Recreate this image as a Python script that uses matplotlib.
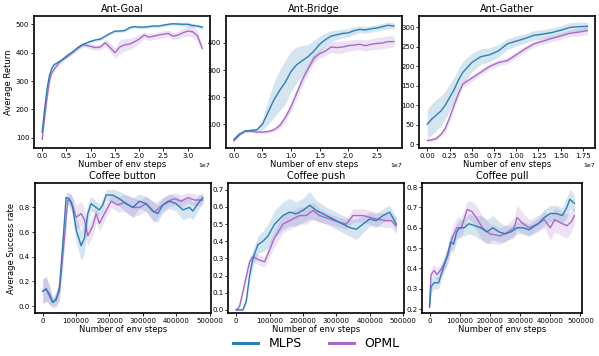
import matplotlib
matplotlib.use('Agg')
import matplotlib.pyplot as plt
import numpy as np

c_mlps = '#2a7fb8'
c_opml = '#a66bc9'

# ---- Ant-Goal ----
goal_x = [0, 0.05, 0.1, 0.15, 0.2, 0.25, 0.35, 0.5, 0.65, 0.75, 0.85, 1.0, 1.1, 1.2, 1.3, 1.4, 1.5,
          1.6, 1.7, 1.8, 1.9, 2.0, 2.1, 2.2, 2.3, 2.4, 2.5, 2.6, 2.7, 2.8, 2.9, 3.0, 3.1, 3.2, 3.3]
goal_mlps = [120, 200, 270, 320, 345, 358, 368, 385, 405, 420, 430, 440, 445, 448, 458, 468, 476,
             476, 478, 488, 492, 490, 490, 492, 494, 494, 497, 500, 502, 501, 500, 500, 496, 494, 490]
goal_mlps_sd = [10, 10, 9, 8, 7, 6, 5, 5, 5, 5, 5, 5, 5, 5, 5, 5, 5,
                5, 5, 5, 5, 5, 5, 5, 5, 5, 5, 5, 5, 6, 7, 8, 7, 6, 6]
goal_opml = [95, 170, 240, 300, 330, 342, 365, 388, 405, 418, 428, 422, 418, 420, 435, 418, 400,
             420, 428, 430, 438, 448, 462, 455, 458, 462, 465, 468, 458, 462, 470, 476, 474, 460, 415]
goal_opml_sd = [10, 12, 12, 10, 8, 8, 8, 8, 8, 8, 8, 10, 10, 10, 12, 15, 18,
                25, 22, 20, 18, 15, 12, 12, 12, 12, 12, 12, 12, 14, 15, 18, 20, 18, 12]

# ---- Ant-Bridge ----
bridge_x = [0, 0.1, 0.2, 0.3, 0.4, 0.5, 0.6, 0.7, 0.8, 0.9, 1.0, 1.1, 1.2, 1.3, 1.4, 1.5, 1.6,
            1.7, 1.8, 1.9, 2.0, 2.1, 2.2, 2.3, 2.4, 2.5, 2.6, 2.7, 2.8]
bridge_mlps = [45, 65, 76, 78, 80, 100, 145, 190, 225, 255, 295, 320, 335, 350, 370, 395, 412,
               425, 430, 435, 437, 445, 450, 448, 452, 455, 460, 465, 462]
bridge_mlps_sd = [6, 6, 5, 5, 6, 20, 45, 65, 75, 80, 75, 65, 55, 45, 38, 30, 25,
                  20, 18, 16, 15, 14, 12, 12, 12, 12, 12, 12, 12]
bridge_opml = [40, 62, 76, 75, 72, 72, 74, 80, 95, 125, 165, 215, 265, 305, 345, 360, 370,
               385, 383, 385, 390, 392, 395, 390, 395, 398, 400, 405, 405]
bridge_opml_sd = [5, 5, 5, 5, 5, 5, 5, 8, 12, 15, 18, 20, 20, 18, 15, 15, 18,
                  20, 22, 22, 20, 20, 20, 20, 20, 22, 22, 22, 20]

# ---- Ant-Gather ----
gather_x = [0, 0.05, 0.1, 0.15, 0.2, 0.25, 0.3, 0.35, 0.4, 0.5, 0.6, 0.7, 0.8, 0.9, 1.0, 1.1,
            1.2, 1.3, 1.4, 1.5, 1.6, 1.7, 1.8]
gather_mlps = [52, 65, 75, 85, 100, 120, 140, 165, 185, 210, 225, 230, 240, 258, 265, 272,
               280, 283, 287, 293, 300, 302, 303]
gather_mlps_sd = [38, 40, 40, 38, 36, 34, 32, 30, 28, 24, 20, 18, 16, 14, 13, 12,
                  12, 12, 12, 12, 12, 12, 10]
gather_opml = [10, 12, 15, 25, 40, 68, 100, 130, 155, 170, 185, 200, 210, 215, 230, 245,
               258, 265, 272, 278, 285, 288, 292]
gather_opml_sd = [4, 4, 5, 6, 8, 10, 10, 10, 8, 8, 8, 8, 8, 8, 8, 8,
                  8, 8, 8, 8, 8, 10, 10]

# ---- Coffee button ----
button_x = [0, 10000, 20000, 30000, 40000, 50000, 60000, 70000, 80000, 90000, 100000, 115000,
            125000, 135000, 145000, 160000, 170000, 180000, 190000, 210000, 230000, 250000,
            270000, 290000, 310000, 330000, 345000, 360000, 380000, 400000, 420000, 440000,
            450000, 465000, 480000]
button_mlps = [0.12, 0.14, 0.10, 0.03, 0.05, 0.15, 0.50, 0.88, 0.87, 0.80, 0.62, 0.49,
               0.55, 0.75, 0.83, 0.80, 0.78, 0.82, 0.90, 0.90, 0.87, 0.83,
               0.80, 0.85, 0.83, 0.77, 0.75, 0.82, 0.85, 0.83, 0.78, 0.80,
               0.77, 0.83, 0.88]
button_mlps_sd = [0.10, 0.10, 0.08, 0.04, 0.06, 0.08, 0.10, 0.04, 0.05, 0.08, 0.10, 0.12,
                  0.12, 0.08, 0.06, 0.05, 0.05, 0.05, 0.04, 0.05, 0.06, 0.07,
                  0.08, 0.06, 0.06, 0.08, 0.07, 0.06, 0.06, 0.06, 0.08, 0.08,
                  0.07, 0.06, 0.04]
button_opml_x = [0, 10000, 20000, 30000, 40000, 50000, 65000, 75000, 85000, 100000, 115000,
                 125000, 135000, 150000, 160000, 170000, 185000, 205000, 225000, 245000,
                 270000, 290000, 310000, 335000, 350000, 375000, 395000, 415000, 435000,
                 455000, 480000]
button_opml = [0.12, 0.14, 0.08, 0.03, 0.06, 0.12, 0.55, 0.86, 0.85, 0.72, 0.75,
               0.70, 0.57, 0.65, 0.75, 0.67, 0.75, 0.85, 0.82, 0.84,
               0.80, 0.80, 0.83, 0.76, 0.80, 0.85, 0.87, 0.85, 0.88,
               0.86, 0.86]
button_opml_sd = [0.10, 0.10, 0.07, 0.03, 0.05, 0.08, 0.10, 0.04, 0.06, 0.10, 0.10,
                  0.10, 0.08, 0.08, 0.07, 0.06, 0.06, 0.05, 0.06, 0.07,
                  0.08, 0.06, 0.06, 0.08, 0.06, 0.05, 0.05, 0.05, 0.04,
                  0.05, 0.04]

# ---- Coffee push ----
push_x = [0, 10000, 20000, 30000, 40000, 50000, 65000, 80000, 95000, 115000, 140000, 160000,
          180000, 200000, 220000, 240000, 270000, 300000, 320000, 340000, 360000, 380000,
          400000, 420000, 440000, 460000, 480000]
push_mlps = [0.0, 0.0, 0.0, 0.05, 0.20, 0.30, 0.38, 0.40, 0.43, 0.50, 0.55, 0.57,
             0.56, 0.58, 0.61, 0.58, 0.55, 0.52, 0.50, 0.48, 0.47, 0.50,
             0.53, 0.52, 0.55, 0.57, 0.50]
push_mlps_sd = [0.005, 0.005, 0.005, 0.02, 0.04, 0.05, 0.05, 0.06, 0.07, 0.08, 0.08, 0.08,
                0.07, 0.07, 0.08, 0.06, 0.05, 0.05, 0.05, 0.05, 0.06, 0.05,
                0.04, 0.04, 0.04, 0.04, 0.04]
push_opml_x = [0, 10000, 25000, 40000, 50000, 70000, 85000, 100000, 115000, 140000, 170000,
               190000, 210000, 230000, 250000, 280000, 310000, 330000, 350000, 380000,
               400000, 420000, 450000, 465000, 480000]
push_opml = [0.0, 0.02, 0.15, 0.28, 0.31, 0.29, 0.28, 0.35, 0.42, 0.50, 0.53,
             0.55, 0.55, 0.58, 0.55, 0.53, 0.51, 0.50, 0.55, 0.55,
             0.54, 0.53, 0.52, 0.52, 0.49]
push_opml_sd = [0.005, 0.01, 0.03, 0.03, 0.03, 0.03, 0.03, 0.04, 0.05, 0.05, 0.05,
                0.05, 0.05, 0.05, 0.04, 0.03, 0.03, 0.03, 0.04, 0.04,
                0.04, 0.04, 0.04, 0.04, 0.05]

# ---- Coffee pull ----
pull_x = [0, 5000, 15000, 30000, 45000, 60000, 70000, 80000, 90000, 100000, 115000, 130000,
          150000, 170000, 190000, 210000, 230000, 250000, 270000, 290000, 310000, 330000,
          360000, 380000, 400000, 420000, 440000, 455000, 465000, 480000]
pull_mlps = [0.21, 0.31, 0.33, 0.33, 0.40, 0.47, 0.53, 0.52, 0.58, 0.60, 0.60, 0.62,
             0.61, 0.60, 0.58, 0.60, 0.58, 0.57, 0.58, 0.60, 0.60, 0.59,
             0.62, 0.65, 0.67, 0.67, 0.66, 0.70, 0.74, 0.72]
pull_mlps_sd = [0.02, 0.03, 0.03, 0.03, 0.03, 0.04, 0.04, 0.04, 0.04, 0.04, 0.04, 0.05,
                0.05, 0.06, 0.06, 0.06, 0.05, 0.04, 0.03, 0.03, 0.03, 0.03,
                0.03, 0.04, 0.04, 0.04, 0.04, 0.05, 0.05, 0.04]
pull_opml_x = [0, 5000, 15000, 25000, 40000, 60000, 75000, 90000, 105000, 125000, 140000,
               155000, 175000, 200000, 235000, 260000, 280000, 290000, 310000, 330000,
               360000, 380000, 400000, 415000, 440000, 455000, 470000, 480000]
pull_opml = [0.22, 0.37, 0.39, 0.37, 0.40, 0.46, 0.55, 0.60, 0.60, 0.69, 0.68,
             0.65, 0.60, 0.57, 0.56, 0.58, 0.60, 0.65, 0.62, 0.60,
             0.62, 0.64, 0.60, 0.64, 0.62, 0.61, 0.63, 0.66]
pull_opml_sd = [0.02, 0.03, 0.03, 0.03, 0.03, 0.04, 0.05, 0.05, 0.05, 0.04, 0.05,
                0.06, 0.06, 0.05, 0.04, 0.04, 0.05, 0.06, 0.05, 0.04,
                0.04, 0.04, 0.06, 0.06, 0.06, 0.06, 0.05, 0.04]


def draw(ax, x1, y1, s1, x2, y2, s2, title, scale=1.0):
    x1 = np.array(x1) * scale
    x2 = np.array(x2) * scale
    y1, s1, y2, s2 = map(np.array, (y1, s1, y2, s2))
    ax.fill_between(x1, y1 - s1, y1 + s1, color=c_mlps, alpha=0.2, lw=0)
    ax.fill_between(x2, y2 - s2, y2 + s2, color=c_opml, alpha=0.2, lw=0)
    ax.plot(x2, y2, color=c_opml, lw=1.0, label='OPML')
    ax.plot(x1, y1, color=c_mlps, lw=1.0, label='MLPS')
    ax.set_title(title, fontsize=7, pad=3)
    ax.set_xlabel('Number of env steps', fontsize=6, labelpad=0.5)
    ax.tick_params(labelsize=5, length=2, width=0.6, pad=1.5)
    ax.xaxis.get_offset_text().set_fontsize(4.5)
    for sp in ax.spines.values():
        sp.set_linewidth(1.2)


fig = plt.figure(figsize=(5.99, 3.56), dpi=100)
w = 0.294
h = 0.371
ax1 = fig.add_axes([0.057, 0.584, w, h])
ax2 = fig.add_axes([0.377, 0.584, w, h])
ax3 = fig.add_axes([0.700, 0.584, w, h])
ax4 = fig.add_axes([0.058, 0.12, w, 0.366])
ax5 = fig.add_axes([0.381, 0.12, w, 0.366])
ax6 = fig.add_axes([0.705, 0.12, 0.266, 0.366])

draw(ax1, goal_x, goal_mlps, goal_mlps_sd, goal_x, goal_opml, goal_opml_sd, 'Ant-Goal', 1e7)
draw(ax2, bridge_x, bridge_mlps, bridge_mlps_sd, bridge_x, bridge_opml, bridge_opml_sd, 'Ant-Bridge', 1e7)
draw(ax3, gather_x, gather_mlps, gather_mlps_sd, gather_x, gather_opml, gather_opml_sd, 'Ant-Gather', 1e7)
draw(ax4, button_x, button_mlps, button_mlps_sd, button_opml_x, button_opml, button_opml_sd, 'Coffee button')
draw(ax5, push_x, push_mlps, push_mlps_sd, push_opml_x, push_opml, push_opml_sd, 'Coffee push')
draw(ax6, pull_x, pull_mlps, pull_mlps_sd, pull_opml_x, pull_opml, pull_opml_sd, 'Coffee pull')

ax1.set_ylabel('Average Return', fontsize=6, labelpad=2)
ax4.set_ylabel('Average Success rate', fontsize=6, labelpad=2)
ax1.set_yticks([100, 200, 300, 400, 500])
ax2.set_yticks([100, 200, 300, 400])
ax3.set_yticks([0, 50, 100, 150, 200, 250, 300])
ax4.set_yticks([0.0, 0.2, 0.4, 0.6, 0.8])
ax5.set_yticks([0.0, 0.1, 0.2, 0.3, 0.4, 0.5, 0.6, 0.7])
ax6.set_yticks([0.2, 0.3, 0.4, 0.5, 0.6, 0.7, 0.8])
ax6.set_ylim(0.18, 0.82)
ax5.set_ylim(-0.02, 0.74)
for ax in (ax4, ax5, ax6):
    ax.set_xticks([0, 100000, 200000, 300000, 400000, 500000])
    ax.ticklabel_format(axis='x', style='plain')

handles, labels = ax1.get_legend_handles_labels()
fig.legend(handles[::-1], labels[::-1], loc='center', bbox_to_anchor=(0.528, 0.035), ncol=2,
           frameon=False, fontsize=9, handlelength=2.0, handletextpad=0.8, columnspacing=2.2,
           borderpad=0.1)
for line in fig.legends[0].get_lines():
    line.set_linewidth(2.2)

fig.savefig('out.png', dpi=100)
